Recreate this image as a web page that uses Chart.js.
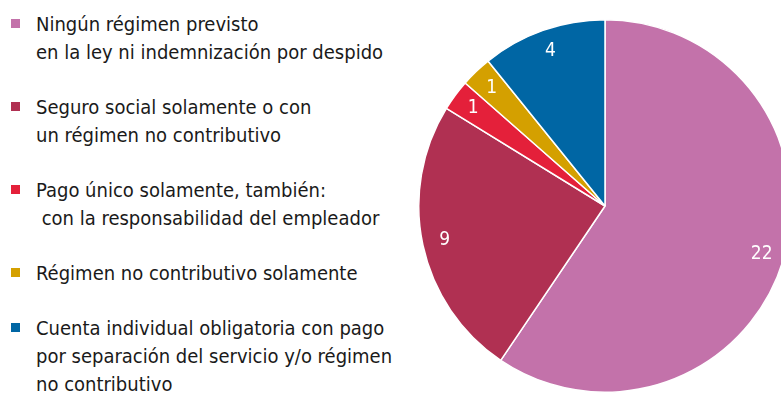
<!DOCTYPE html>
<html>
<head>
<meta charset="utf-8">
<script src="https://cdn.jsdelivr.net/npm/chart.js"></script>
<style>
  html, body { margin: 0; padding: 0; background: #fff; overflow: hidden; }
  body { width: 781px; height: 400px; position: relative; }
  #legend { position: absolute; left: 0; top: 10px; font-family: "DejaVu Sans Condensed", sans-serif; font-size: 20px; color: #1a1a1a; }
  .item { position: relative; padding-left: 36px; line-height: 28px; margin-bottom: 27px; white-space: pre; }
  .item i { position: absolute; left: 11px; top: 9px; width: 9px; height: 9px; }
  #wrap { position: absolute; left: 415px; top: 16px; width: 380px; height: 380px; }
</style>
</head>
<body>
<div id="legend"></div>
<div id="wrap"><canvas id="pie"></canvas></div>
<script>
const categories = [
    'Ningún régimen previsto\nen la ley ni indemnización por despido',
    'Seguro social solamente o con\nun régimen no contributivo',
    'Pago único solamente, también:\n con la responsabilidad del empleador',
    'Régimen no contributivo solamente',
    'Cuenta individual obligatoria con pago\npor separación del servicio y/o régimen\nno contributivo'
];
const counts = [22, 9, 1, 1, 4];
const colors = ['#C372AA', '#B03052', '#E4203A', '#D4A000', '#0066A4'];

// legend in html, so the multi line labels keep their breaks
const legend = document.getElementById('legend');
categories.forEach((txt, i) => {
    const div = document.createElement('div');
    div.className = 'item';
    div.innerHTML = '<i style="background:' + colors[i] + '"></i>';
    div.appendChild(document.createTextNode(txt));
    legend.appendChild(div);
});

const valueLabels = {
    id: 'valueLabels',
    afterDatasetsDraw(chart) {
        const ctx = chart.ctx;
        const meta = chart.getDatasetMeta(0);
        ctx.save();
        ctx.fillStyle = '#fff';
        ctx.font = '19px "DejaVu Sans Condensed", sans-serif';
        ctx.textAlign = 'center';
        ctx.textBaseline = 'middle';
        meta.data.forEach((arc, i) => {
            const mid = (arc.startAngle + arc.endAngle) / 2;
            const r = arc.outerRadius * 0.88;
            ctx.fillText(String(counts[i]), arc.x + Math.cos(mid) * r, arc.y + Math.sin(mid) * r);
        });
        ctx.restore();
    }
};

const config = {
    type: 'pie',
    data: {
        labels: categories,
        datasets: [{
            data: counts,
            backgroundColor: colors,
            borderColor: '#ffffff',
            borderWidth: 1.5
        }]
    },
    options: {
        responsive: true,
        maintainAspectRatio: false,
        animation: false,
        layout: { padding: 3 },
        plugins: {
            legend: { display: false },
            tooltip: { enabled: false }
        }
    },
    plugins: [valueLabels]
};

new Chart(document.getElementById('pie'), config);
</script>
</body>
</html>
